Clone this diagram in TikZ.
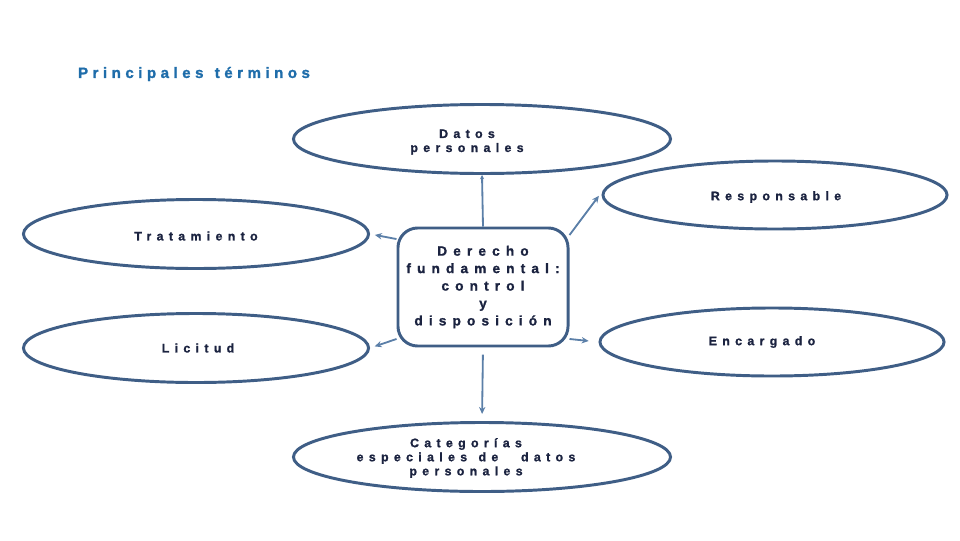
\documentclass[tikz,border=0pt]{standalone}
\usepackage{fontspec}
\setmainfont{Liberation Sans}
\newfontfamily\ovalfont[LetterSpace=43, WordSpace=1.3, FakeBold=1.2]{Liberation Sans Bold}
\newfontfamily\boxfont[LetterSpace=45, WordSpace=1.3, FakeBold=1.2]{Liberation Sans Bold}
\newfontfamily\headfont[LetterSpace=30, WordSpace=1.3, FakeBold=1.5]{Liberation Sans Bold}
\usepackage{tikz}
\usetikzlibrary{shapes.geometric, arrows.meta, positioning}
\definecolor{ovalline}{HTML}{3F5E86}
\definecolor{linkcol}{HTML}{5B7FA8}
\definecolor{inktext}{HTML}{1B2340}
\definecolor{titleblue}{HTML}{1F6DAA}

\begin{document}
\begin{tikzpicture}[x=0.025cm, y=-0.025cm,
  oval/.style={ellipse, draw=ovalline, line width=2.1pt, fill=white, inner sep=0pt},
  ovaltext/.style={text=inktext, align=center, font=\ovalfont\fontsize{8.8}{10}\selectfont},
  hub/.style={rectangle, rounded corners=14pt, draw=ovalline, line width=2.1pt, align=center, text=inktext,
    font=\boxfont\fontsize{9.7}{12.4}\selectfont, minimum width=4.25cm, minimum height=2.95cm, inner sep=0pt},
  link/.style={draw=linkcol, line width=1.3pt, -{Stealth[length=5pt,width=4.5pt]}}]
\useasboundingbox (0,0) rectangle (960,540);
\node[text=titleblue, font=\headfont\fontsize{10.7}{12}\selectfont] (title) at (194,74) {Principales términos};

\node[oval, minimum width=9.425cm, minimum height=1.725cm] (datos) at (482,139) {};
\node[oval, minimum width=8.6cm, minimum height=1.7cm] (resp) at (775,195) {};
\node[oval, minimum width=8.625cm, minimum height=1.725cm] (trat) at (196,234) {};
\node[oval, minimum width=8.625cm, minimum height=1.725cm] (lic) at (196,348) {};
\node[oval, minimum width=8.6cm, minimum height=1.7cm] (enc) at (772,342) {};
\node[oval, minimum width=9.425cm, minimum height=1.725cm] (cat) at (482,457) {};

\node[ovaltext] (datost) at (467,142) {Datos\\personales};
\node[ovaltext] (respt) at (776,197) {Responsable};
\node[ovaltext] (tratt) at (196,236) {Tratamiento};
\node[ovaltext] (lict) at (198,348) {Licitud};
\node[ovaltext] (enct) at (762,342) {Encargado};
\node[ovaltext] (catt) at (466,458) {Categorías\\especiales de\ \ datos\\personales};

\node[hub] (centre) at (483,287) {Derecho\\fundamental:\\control\\y\\disposición};

\draw[link, -{Stealth[length=3pt,width=3pt]}] (centre.north) -- (datos.south);
\draw[link, shorten >=6pt] (centre.31) -- (resp.178);
\draw[link, shorten >=3.5pt] (centre.151) -- (trat.east);
\draw[link, shorten >=3.5pt] (centre.211) -- (lic.east);
\draw[link, shorten >=7pt] (centre.-31) -- (enc.west);
\draw[link, shorten <=5pt, shorten >=5pt] (centre.south) -- (cat.north);
\end{tikzpicture}
\end{document}
